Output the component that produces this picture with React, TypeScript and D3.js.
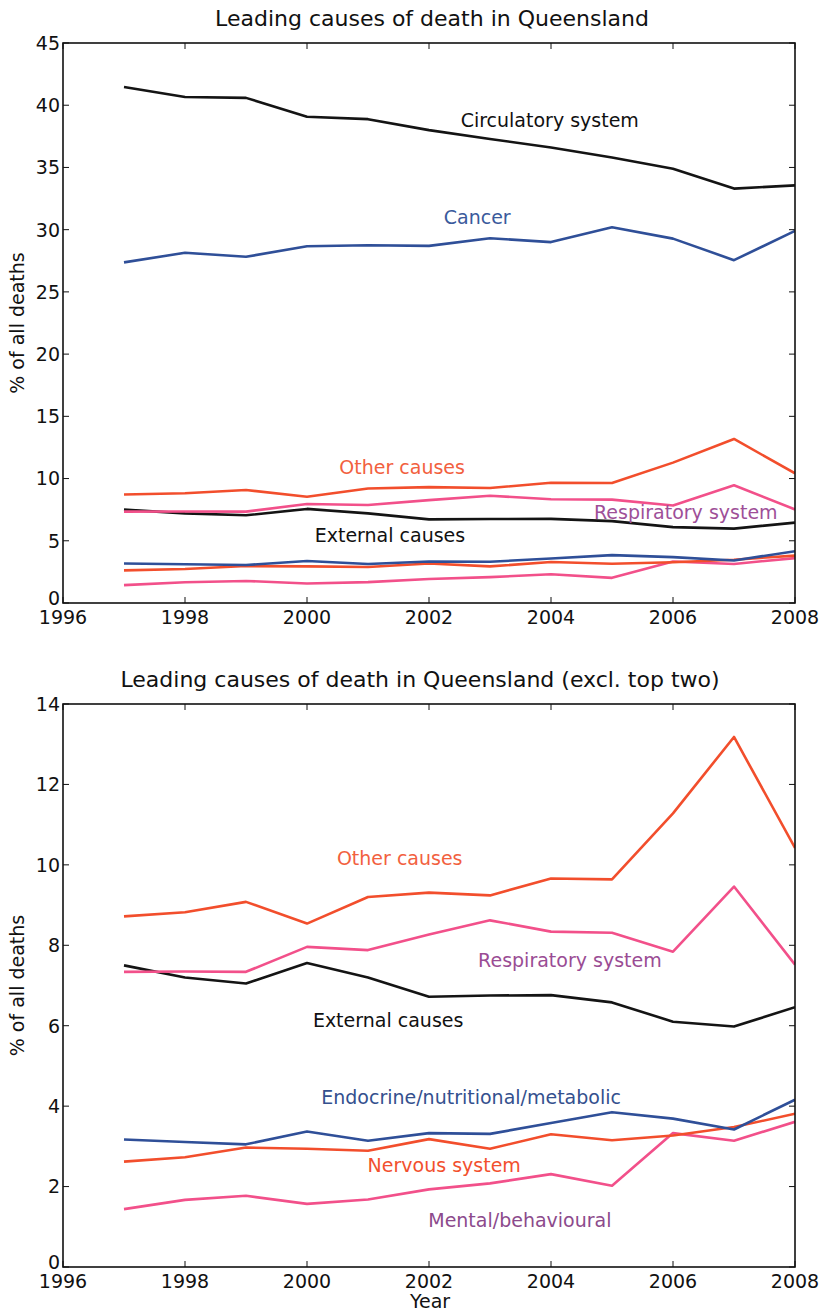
import React from "react";
import * as d3 from "d3";

const years = [1997, 1998, 1999, 2000, 2001, 2002, 2003, 2004, 2005, 2006, 2007, 2008];

const circulatory = [41.46, 40.66, 40.59, 39.07, 38.88, 38.0, 37.29, 36.6, 35.8, 34.9, 33.3, 33.56];
const cancer = [27.37, 28.14, 27.82, 28.67, 28.75, 28.7, 29.31, 29.0, 30.2, 29.28, 27.55, 29.9];
const otherCauses = [8.72, 8.82, 9.08, 8.54, 9.2, 9.31, 9.24, 9.66, 9.64, 11.28, 13.18, 10.42];
const respiratory = [7.34, 7.35, 7.34, 7.96, 7.88, 8.27, 8.62, 8.34, 8.31, 7.84, 9.46, 7.52];
const external = [7.5, 7.2, 7.05, 7.56, 7.2, 6.72, 6.75, 6.76, 6.58, 6.1, 5.98, 6.46];
const endocrine = [3.17, 3.11, 3.05, 3.37, 3.14, 3.33, 3.31, 3.58, 3.85, 3.69, 3.42, 4.16];
const nervous = [2.62, 2.73, 2.97, 2.94, 2.89, 3.18, 2.94, 3.3, 3.15, 3.27, 3.48, 3.81];
const mental = [1.44, 1.67, 1.77, 1.57, 1.68, 1.93, 2.08, 2.31, 2.02, 3.33, 3.14, 3.61];

const xTicks = [1996, 1998, 2000, 2002, 2004, 2006, 2008];
const yTicksTop = [0, 5, 10, 15, 20, 25, 30, 35, 40, 45];
const yTicksBottom = [0, 2, 4, 6, 8, 10, 12, 14];

const BLACK = "#141414";
const BLUE = "#2f4f98";
const RED = "#f24e2c";
const PINK = "#f2508a";

type Series = { name: string; values: number[]; color: string };
type Note = { text: string; year: number; value: number; color: string };

const topSeries: Series[] = [
  { name: "Circulatory system", values: circulatory, color: BLACK },
  { name: "Cancer", values: cancer, color: BLUE },
  { name: "Mental/behavioural", values: mental, color: PINK },
  { name: "Nervous system", values: nervous, color: RED },
  { name: "Endocrine/nutritional/metabolic", values: endocrine, color: BLUE },
  { name: "External causes", values: external, color: BLACK },
  { name: "Respiratory system", values: respiratory, color: PINK },
  { name: "Other causes", values: otherCauses, color: RED },
];
const bottomSeries: Series[] = topSeries.slice(2);

const topNotes: Note[] = [
  { text: "Circulatory system", year: 2003.98, value: 38.8, color: "#111" },
  { text: "Cancer", year: 2002.79, value: 31.0, color: "#3a5a9c" },
  { text: "Other causes", year: 2001.56, value: 10.93, color: "#f2603e" },
  { text: "Respiratory system", year: 2006.21, value: 7.32, color: "#9e4f98" },
  { text: "External causes", year: 2001.36, value: 5.47, color: "#111" },
];
const bottomNotes: Note[] = [
  { text: "Other causes", year: 2001.52, value: 10.17, color: "#f2603e" },
  { text: "Respiratory system", year: 2004.31, value: 7.64, color: "#9a4c94" },
  { text: "External causes", year: 2001.33, value: 6.14, color: "#111" },
  { text: "Endocrine/nutritional/metabolic", year: 2002.69, value: 4.23, color: "#34508e" },
  { text: "Nervous system", year: 2002.25, value: 2.54, color: "#f2502e" },
  { text: "Mental/behavioural", year: 2003.49, value: 1.17, color: "#8c4a8c" },
];

const FONT = "DejaVu Sans, sans-serif";

function Panel(props: {
  title: string;
  titleX: number;
  top: number;
  bottom: number;
  yMax: number;
  yTicks: number[];
  series: Series[];
  notes: Note[];
  xlabel?: string;
}) {
  const { title, titleX, top, bottom, yMax, yTicks, series, notes, xlabel } = props;
  const left = 63;
  const right = 795;
  const x = d3.scaleLinear().domain([1996, 2008]).range([left, right]);
  const y = d3.scaleLinear().domain([0, yMax]).range([bottom, top]);
  const line = d3
    .line<number>()
    .x((_, i) => x(years[i]))
    .y((d) => y(d));
  const tl = 6;
  return (
    <g>
      <text x={titleX} y={top - 17} textAnchor="middle" fontSize={22} fontFamily={FONT} fill="#111">
        {title}
      </text>
      <defs>
        <clipPath id={`clip-${top}`}>
          <rect x={left} y={top} width={right - left} height={bottom - top} />
        </clipPath>
      </defs>
      <g clipPath={`url(#clip-${top})`}>
        {series.map((s) => (
          <path
            key={s.name}
            d={line(s.values) || ""}
            fill="none"
            stroke={s.color}
            strokeWidth={2.6}
            strokeLinejoin="round"
          />
        ))}
      </g>
      <rect x={left} y={top} width={right - left} height={bottom - top} fill="none" stroke="#111" strokeWidth={1.6} />
      {xTicks.map((t) => (
        <g key={`x${t}`}>
          <line x1={x(t)} x2={x(t)} y1={bottom} y2={bottom - tl} stroke="#111" strokeWidth={1} />
          <line x1={x(t)} x2={x(t)} y1={top} y2={top + tl} stroke="#111" strokeWidth={1} />
          <text x={x(t)} y={bottom + 21} textAnchor="middle" fontSize={19} fontFamily={FONT} fill="#111">
            {t}
          </text>
        </g>
      ))}
      {yTicks.map((t) => (
        <g key={`y${t}`}>
          <line x1={left} x2={left + tl} y1={y(t)} y2={y(t)} stroke="#111" strokeWidth={1} />
          <line x1={right} x2={right - tl} y1={y(t)} y2={y(t)} stroke="#111" strokeWidth={1} />
          <text
            x={left - 3}
            y={y(t)}
            dy={t === 0 ? "0.1em" : "0.36em"}
            textAnchor="end"
            fontSize={19}
            fontFamily={FONT}
            fill="#111"
          >
            {t}
          </text>
        </g>
      ))}
      <text
        transform={`translate(24,${(top + bottom) / 2}) rotate(-90)`}
        textAnchor="middle"
        fontSize={19}
        fontFamily={FONT}
        fill="#111"
      >
        % of all deaths
      </text>
      {notes.map((n) => (
        <text
          key={n.text}
          x={x(n.year)}
          y={y(n.value)}
          dy="0.36em"
          textAnchor="middle"
          fontSize={19}
          fontFamily={FONT}
          fill={n.color}
        >
          {n.text}
        </text>
      ))}
      {xlabel && (
        <text x={430} y={bottom + 41} textAnchor="middle" fontSize={19} fontFamily={FONT} fill="#111">
          {xlabel}
        </text>
      )}
    </g>
  );
}

export default function App() {
  return (
    <svg
      width={821}
      height={1312}
      style={{ position: "absolute", left: 0, top: 0, background: "#fff" }}
    >
      <rect width={821} height={1312} fill="#fff" />
      <Panel
        title="Leading causes of death in Queensland"
        titleX={432}
        top={43}
        bottom={603}
        yMax={45}
        yTicks={yTicksTop}
        series={topSeries}
        notes={topNotes}
      />
      <Panel
        title="Leading causes of death in Queensland (excl. top two)"
        titleX={420}
        top={704}
        bottom={1267}
        yMax={14}
        yTicks={yTicksBottom}
        series={bottomSeries}
        notes={bottomNotes}
        xlabel="Year"
      />
    </svg>
  );
}
